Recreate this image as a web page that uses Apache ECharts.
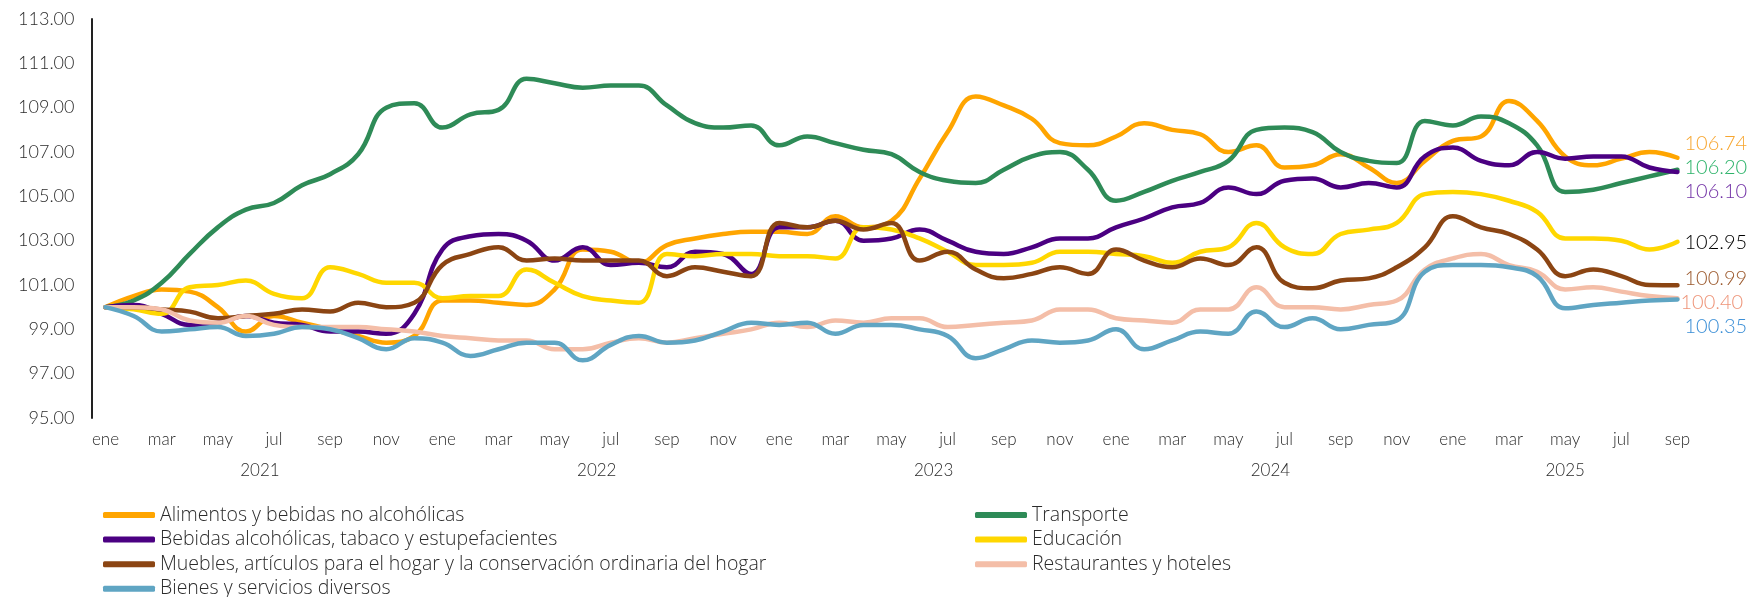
<!DOCTYPE html>
<html>
<head>
<meta charset="utf-8">
<script src="https://cdn.jsdelivr.net/npm/echarts@6/dist/echarts.min.js"></script>
<style>
  html, body { margin: 0; padding: 0; background: #fff; }
  #chart { width: 1750px; height: 597px; }
</style>
</head>
<body>
<div id="chart"></div>
<script>
// meses de ene 2021 a sep 2025
const years = [2021, 2022, 2023, 2024, 2025]
const monthNames = ['ene', 'feb', 'mar', 'abr', 'may', 'jun', 'jul', 'ago', 'sep', 'oct', 'nov', 'dic']
const lastMonth = 9 // sep 2025

const seriesNames = [
  'Alimentos y bebidas no alcohólicas',
  'Transporte',
  'Bebidas alcohólicas, tabaco y estupefacientes',
  'Educación',
  'Muebles, artículos para el hogar y la conservación ordinaria del hogar',
  'Restaurantes y hoteles',
  'Bienes y servicios diversos'
]

const alimentos = [
  100.0, 100.5, 100.8, 100.7, 100.0, 98.9, 99.6, 99.3, 99.0, 98.7, 98.4, 98.7,
  100.3, 100.3, 100.2, 100.1, 100.8, 102.6, 102.5, 102.0, 102.8, 103.1, 103.3, 103.4,
  103.4, 103.3, 104.1, 103.6, 103.9, 105.8, 107.9, 109.5, 109.1, 108.5, 107.4, 107.3,
  107.7, 108.3, 108.0, 107.8, 107.0, 107.3, 106.3, 106.4, 106.9, 106.3, 105.6, 106.6,
  107.5, 107.7, 109.3, 108.4, 106.8, 106.4, 106.7, 107.0, 106.74
]
const transporte = [
  100.0, 100.3, 101.1, 102.4, 103.6, 104.4, 104.7, 105.5, 106.0, 106.9, 109.0, 109.2,
  108.1, 108.7, 108.9, 110.3, 110.1, 109.9, 110.0, 110.0, 109.1, 108.3, 108.1, 108.2,
  107.3, 107.7, 107.4, 107.1, 106.9, 106.1, 105.7, 105.6, 106.2, 106.8, 107.0, 106.2,
  104.8, 105.2, 105.7, 106.1, 106.6, 108.0, 108.1, 107.9, 107.0, 106.6, 106.5, 108.4,
  108.2, 108.6, 108.3, 107.3, 105.2, 105.3, 105.6, 105.9, 106.20
]
const bebidas = [
  100.0, 100.1, 99.7, 99.2, 99.3, 99.6, 99.3, 99.2, 98.9, 98.9, 98.8, 99.7,
  102.6, 103.2, 103.3, 103.0, 102.1, 102.7, 101.9, 102.0, 101.8, 102.5, 102.4, 101.5,
  103.6, 103.6, 103.9, 103.0, 103.1, 103.5, 103.0, 102.5, 102.4, 102.7, 103.1, 103.1,
  103.6, 104.0, 104.5, 104.7, 105.4, 105.1, 105.7, 105.8, 105.4, 105.6, 105.4, 106.8,
  107.2, 106.6, 106.4, 107.0, 106.7, 106.8, 106.8, 106.3, 106.10
]
const educacion = [
  100.0, 99.9, 99.7, 100.9, 101.0, 101.2, 100.6, 100.4, 101.8, 101.5, 101.1, 101.1,
  100.4, 100.5, 100.5, 101.7, 101.1, 100.5, 100.3, 100.2, 102.4, 102.3, 102.4, 102.4,
  102.3, 102.3, 102.2, 103.6, 103.5, 103.1, 102.5, 101.9, 101.9, 102.0, 102.5, 102.5,
  102.4, 102.3, 102.0, 102.5, 102.7, 103.8, 102.7, 102.4, 103.3, 103.5, 103.8, 105.1,
  105.2, 105.1, 104.8, 104.3, 103.1, 103.1, 103.0, 102.6, 102.95
]
const muebles = [
  100.0, 100.0, 99.9, 99.8, 99.5, 99.6, 99.7, 99.9, 99.8, 100.2, 100.0, 100.2,
  101.9, 102.4, 102.7, 102.1, 102.2, 102.1, 102.1, 102.1, 101.4, 101.8, 101.6, 101.4,
  103.8, 103.6, 103.9, 103.5, 103.8, 102.1, 102.5, 101.7, 101.3, 101.5, 101.8, 101.5,
  102.6, 102.1, 101.8, 102.2, 101.9, 102.7, 101.1, 100.85, 101.2, 101.3, 101.8, 102.7,
  104.1, 103.6, 103.3, 102.6, 101.4, 101.7, 101.4, 101.0, 100.99
]
const restaurantes = [
  100.0, 100.0, 99.9, 99.4, 99.3, 99.6, 99.2, 99.1, 99.1, 99.1, 99.0, 98.9,
  98.7, 98.6, 98.5, 98.5, 98.1, 98.1, 98.4, 98.6, 98.4, 98.6, 98.8, 99.0,
  99.3, 99.1, 99.4, 99.3, 99.5, 99.5, 99.1, 99.2, 99.3, 99.4, 99.9, 99.9,
  99.5, 99.4, 99.3, 99.9, 99.9, 100.9, 100.0, 100.0, 99.9, 100.1, 100.3, 101.7,
  102.2, 102.4, 101.9, 101.6, 100.8, 100.9, 100.7, 100.5, 100.40
]
const bienes = [
  100.0, 99.6, 98.9, 99.0, 99.1, 98.7, 98.8, 99.1, 99.0, 98.6, 98.1, 98.6,
  98.4, 97.8, 98.1, 98.4, 98.4, 97.6, 98.3, 98.7, 98.4, 98.5, 98.9, 99.3,
  99.2, 99.3, 98.8, 99.2, 99.2, 99.0, 98.7, 97.7, 98.1, 98.5, 98.4, 98.5,
  99.0, 98.1, 98.5, 98.9, 98.8, 99.8, 99.1, 99.5, 99.0, 99.2, 99.4, 101.6,
  101.9, 101.9, 101.8, 101.4, 99.95, 100.1, 100.2, 100.3, 100.35
]

const lineColors = ['#FFA500', '#2E8B57', '#4B0082', '#FFD700', '#8B4513', '#F4BEA8', '#5FA5C3']
const labelColors = ['#F7A630', '#2DB36A', '#7232A6', '#000000', '#9C5A2E', '#EE9478', '#3A8ED6']
// desplazamiento de la etiqueta final para que no se encimen
const labelOffsets = [[3, -14], [3, -2], [3, 20], [3, 1], [3, -7], [-1, 4], [3, 27]]

const allSeries = [alimentos, transporte, bebidas, educacion, muebles, restaurantes, bienes]

// categorías del eje
const periods = []
const periodYear = []
years.forEach((y) => {
  monthNames.forEach((m, k) => {
    if (y === years[years.length - 1] && k >= lastMonth) return
    periods.push(m + ' ' + y)
    periodYear.push(y)
  })
})

// centro de cada año en el eje (para la etiqueta del año)
const yearCenters = years.map((y) => {
  const idx = []
  periodYear.forEach((py, i) => { if (py === y) idx.push(i) })
  return (idx[0] + idx[idx.length - 1]) / 2
})

const font = 'Lato, "Noto Sans", sans-serif'
const legendFont = '"Open Sans", Lato, sans-serif'
const textColor = '#2b2b2b'

const chart = echarts.init(document.getElementById('chart'))

const legendCfg = (left, names) => ({
  orient: 'vertical',
  left: left,
  top: 505,
  height: 120,
  padding: 0,
  itemWidth: 52,
  itemHeight: 6,
  itemGap: 4.6,
  icon: 'roundRect',
  data: names,
  textStyle: {
    fontFamily: legendFont,
    fontWeight: 300,
    fontSize: 19.5,
    color: textColor,
    lineHeight: 18
  }
})

const option = {
  animation: false,
  backgroundColor: '#fff',
  grid: { left: 91.5, right: 58.5, top: 19, bottom: 179, containLabel: false },
  legend: [
    legendCfg(103, [seriesNames[0], seriesNames[2], seriesNames[4], seriesNames[6]]),
    legendCfg(975, [seriesNames[1], seriesNames[3], seriesNames[5]])
  ],
  xAxis: [
    {
      type: 'category',
      data: periods,
      boundaryGap: true,
      axisLine: { show: false },
      axisTick: { show: false },
      axisLabel: {
        interval: 1,
        margin: 13,
        fontFamily: font,
        fontWeight: 300,
        fontSize: 17,
        color: textColor,
        formatter: (v) => v.split(' ')[0]
      }
    },
    {
      type: 'value',
      min: -0.5,
      max: periods.length - 0.5,
      position: 'bottom',
      axisLine: { show: false },
      axisTick: { show: false },
      splitLine: { show: false },
      axisLabel: {
        customValues: yearCenters,
        margin: 44,
        fontFamily: font,
        fontWeight: 300,
        fontSize: 17,
        color: textColor,
        formatter: (v) => {
          const k = yearCenters.indexOf(v)
          return k >= 0 ? String(years[k]) : ''
        }
      }
    }
  ],
  yAxis: {
    type: 'value',
    min: 95,
    max: 113,
    interval: 2,
    axisLine: { show: true, onZero: false, lineStyle: { color: '#222', width: 2 } },
    axisTick: { show: false },
    splitLine: { show: false },
    axisLabel: {
      margin: 17,
      fontFamily: font,
      fontWeight: 300,
      fontSize: 18,
      color: textColor,
      formatter: (v) => v.toFixed(2)
    }
  },
  series: allSeries.map((data, i) => ({
    name: seriesNames[i],
    type: 'line',
    xAxisIndex: 0,
    data: data,
    smooth: 0.45,
    showSymbol: false,
    symbol: 'none',
    color: lineColors[i],
    lineStyle: { width: 4.5, color: lineColors[i], cap: 'round' },
    endLabel: {
      show: true,
      distance: 4,
      offset: labelOffsets[i],
      fontFamily: font,
      fontWeight: 300,
      fontSize: 20,
      color: labelColors[i],
      formatter: (p) => Number(p.value).toFixed(2)
    }
  }))
}

chart.setOption(option)
</script>
</body>
</html>
